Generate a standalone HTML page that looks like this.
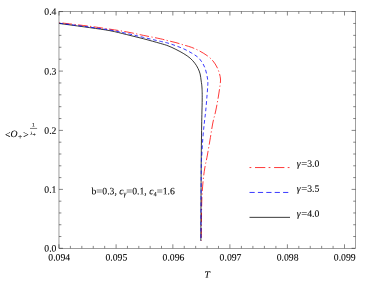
<!DOCTYPE html><html><head><meta charset="utf-8"><style>html,body{margin:0;padding:0;background:#fff}svg{display:block;text-rendering:geometricPrecision;will-change:transform}</style></head><body><svg width="382" height="285" viewBox="0 0 382 285"><rect width="382" height="285" fill="#fff"/><g fill="none" stroke-width="0.78"><path d="M59.30 22.65 C64.33 23.25 81.05 25.16 89.50 26.25 C97.95 27.34 103.79 28.26 110.00 29.20 C116.21 30.14 121.17 30.87 126.75 31.90 C132.33 32.93 137.92 34.26 143.50 35.40 C149.08 36.54 156.17 37.87 160.25 38.75 C164.33 39.63 165.39 40.06 168.00 40.70 C170.61 41.34 173.27 41.88 175.90 42.60 C178.53 43.32 181.17 44.20 183.80 45.00 C186.43 45.80 189.07 46.40 191.70 47.40 C194.33 48.40 196.97 49.58 199.60 51.00 C202.23 52.42 205.27 54.23 207.50 55.90 C209.73 57.57 211.43 59.15 213.00 61.00 C214.57 62.85 215.85 64.98 216.90 67.00 C217.95 69.02 218.70 71.10 219.30 73.10 C219.90 75.10 220.37 77.05 220.50 79.00 C220.63 80.95 220.47 81.80 220.10 84.80 C219.73 87.80 219.03 92.63 218.30 97.00 C217.57 101.37 216.62 106.67 215.70 111.00 C214.78 115.33 213.68 118.58 212.80 123.00 C211.92 127.42 211.30 132.17 210.40 137.50 C209.50 142.83 208.33 149.92 207.40 155.00 C206.47 160.08 205.50 163.83 204.80 168.00 C204.10 172.17 203.65 175.67 203.20 180.00 C202.75 184.33 202.36 189.67 202.10 194.00 C201.84 198.33 201.77 200.83 201.65 206.00 C201.53 211.17 201.46 219.20 201.40 225.00 C201.34 230.80 201.32 238.17 201.30 240.80" stroke="#f00" stroke-dasharray="1.2 2.4 9.6 2.4" stroke-dashoffset="0.3"/><path d="M59.30 23.50 C64.33 24.18 81.05 26.40 89.50 27.60 C97.95 28.80 103.79 29.53 110.00 30.70 C116.21 31.87 121.17 33.26 126.75 34.60 C132.33 35.94 137.92 37.28 143.50 38.75 C149.08 40.22 156.17 42.23 160.25 43.40 C164.33 44.57 165.39 44.80 168.00 45.80 C170.61 46.80 173.27 48.08 175.90 49.40 C178.53 50.72 181.43 52.25 183.80 53.70 C186.17 55.15 188.27 56.52 190.10 58.10 C191.93 59.68 193.48 61.48 194.80 63.20 C196.12 64.92 197.12 66.62 198.00 68.40 C198.88 70.18 199.57 71.80 200.10 73.90 C200.63 76.00 200.88 78.65 201.20 81.00 C201.52 83.35 201.83 84.83 202.00 88.00 C202.17 91.17 202.26 93.67 202.20 100.00 C202.14 106.33 201.82 114.33 201.65 126.00 C201.48 137.67 201.28 150.87 201.15 170.00 C201.02 189.13 200.90 229.00 200.85 240.80" stroke="#000"/><path d="M59.30 23.20 C64.33 23.85 81.05 25.97 89.50 27.10 C97.95 28.23 103.79 28.95 110.00 30.00 C116.21 31.05 121.17 32.17 126.75 33.40 C132.33 34.63 137.92 36.08 143.50 37.40 C149.08 38.72 156.17 40.35 160.25 41.30 C164.33 42.25 165.39 42.35 168.00 43.10 C170.61 43.85 173.27 44.83 175.90 45.80 C178.53 46.77 181.17 47.68 183.80 48.90 C186.43 50.12 189.33 51.70 191.70 53.10 C194.07 54.50 196.22 55.68 198.00 57.30 C199.78 58.92 201.22 60.95 202.40 62.80 C203.58 64.65 204.37 66.42 205.10 68.40 C205.83 70.38 206.37 72.77 206.80 74.70 C207.23 76.63 207.53 78.32 207.70 80.00 C207.87 81.68 207.93 81.97 207.80 84.80 C207.67 87.63 207.25 92.63 206.90 97.00 C206.55 101.37 206.13 106.67 205.70 111.00 C205.27 115.33 204.77 118.58 204.30 123.00 C203.83 127.42 203.32 132.17 202.90 137.50 C202.48 142.83 202.08 149.58 201.80 155.00 C201.53 160.42 201.40 155.70 201.25 170.00 C201.10 184.30 200.96 229.00 200.90 240.80" stroke="#00f" stroke-dasharray="3.7 2.64" stroke-dashoffset="-0.2"/></g><g stroke="#222" stroke-width="0.55" fill="none"><rect x="58.98" y="11.50" width="296.62" height="236.80" stroke-width="0.44"/><path d="M58.98 248.30v-4.00M58.98 11.50v4.00M70.40 248.30v-2.40M70.40 11.50v2.40M81.83 248.30v-2.40M81.83 11.50v2.40M93.25 248.30v-2.40M93.25 11.50v2.40M104.68 248.30v-2.40M104.68 11.50v2.40M116.10 248.30v-4.00M116.10 11.50v4.00M127.45 248.30v-2.40M127.45 11.50v2.40M138.80 248.30v-2.40M138.80 11.50v2.40M150.15 248.30v-2.40M150.15 11.50v2.40M161.50 248.30v-2.40M161.50 11.50v2.40M172.85 248.30v-4.00M172.85 11.50v4.00M184.26 248.30v-2.40M184.26 11.50v2.40M195.67 248.30v-2.40M195.67 11.50v2.40M207.08 248.30v-2.40M207.08 11.50v2.40M218.49 248.30v-2.40M218.49 11.50v2.40M229.90 248.30v-4.00M229.90 11.50v4.00M241.40 248.30v-2.40M241.40 11.50v2.40M252.90 248.30v-2.40M252.90 11.50v2.40M264.40 248.30v-2.40M264.40 11.50v2.40M275.90 248.30v-2.40M275.90 11.50v2.40M287.40 248.30v-4.00M287.40 11.50v4.00M298.82 248.30v-2.40M298.82 11.50v2.40M310.24 248.30v-2.40M310.24 11.50v2.40M321.66 248.30v-2.40M321.66 11.50v2.40M333.08 248.30v-2.40M333.08 11.50v2.40M344.50 248.30v-4.00M344.50 11.50v4.00M58.98 248.30h4.00M355.60 248.30h-4.00M58.98 236.52h2.40M355.60 236.52h-2.40M58.98 224.74h2.40M355.60 224.74h-2.40M58.98 212.96h2.40M355.60 212.96h-2.40M58.98 201.18h2.40M355.60 201.18h-2.40M58.98 189.40h4.00M355.60 189.40h-4.00M58.98 177.60h2.40M355.60 177.60h-2.40M58.98 165.80h2.40M355.60 165.80h-2.40M58.98 154.00h2.40M355.60 154.00h-2.40M58.98 142.20h2.40M355.60 142.20h-2.40M58.98 130.40h4.00M355.60 130.40h-4.00M58.98 118.54h2.40M355.60 118.54h-2.40M58.98 106.68h2.40M355.60 106.68h-2.40M58.98 94.82h2.40M355.60 94.82h-2.40M58.98 82.96h2.40M355.60 82.96h-2.40M58.98 71.10h4.00M355.60 71.10h-4.00M58.98 59.19h2.40M355.60 59.19h-2.40M58.98 47.28h2.40M355.60 47.28h-2.40M58.98 35.37h2.40M355.60 35.37h-2.40M58.98 23.46h2.40M355.60 23.46h-2.40M58.98 11.55h4.00M355.60 11.55h-4.00"/></g><g font-family="'Liberation Serif', serif" font-size="9.70" fill="#000" stroke="#000" stroke-width="0.08"><text x="56.45" y="251.60" transform="rotate(0.03 56.45 251.60)" text-anchor="end">0.0</text><text x="56.45" y="192.70" transform="rotate(0.03 56.45 192.70)" text-anchor="end">0.1</text><text x="56.45" y="133.70" transform="rotate(0.03 56.45 133.70)" text-anchor="end">0.2</text><text x="56.45" y="74.60" transform="rotate(0.03 56.45 74.60)" text-anchor="end">0.3</text><text x="56.45" y="14.70" transform="rotate(0.03 56.45 14.70)" text-anchor="end">0.4</text><text x="59.25" y="260.50" transform="rotate(0.03 59.25 260.50)" text-anchor="middle">0.094</text><text x="116.34" y="260.50" transform="rotate(0.03 116.34 260.50)" text-anchor="middle">0.095</text><text x="173.43" y="260.50" transform="rotate(0.03 173.43 260.50)" text-anchor="middle">0.096</text><text x="230.52" y="260.50" transform="rotate(0.03 230.52 260.50)" text-anchor="middle">0.097</text><text x="287.61" y="260.50" transform="rotate(0.03 287.61 260.50)" text-anchor="middle">0.098</text><text x="344.70" y="260.50" transform="rotate(0.03 344.70 260.50)" text-anchor="middle">0.099</text><text x="207.10" y="277.80" transform="rotate(0.03 207.10 277.80)" text-anchor="middle" font-style="italic">T</text><text x="91.45" y="194.30" transform="rotate(0.03 91.45 194.30)">b<tspan textLength="6.0" lengthAdjust="spacingAndGlyphs">=</tspan>0.3, <tspan font-style="italic">c</tspan><tspan font-style="italic" font-size="6.8" dy="1.7">γ</tspan><tspan dy="-1.7" textLength="6.0" lengthAdjust="spacingAndGlyphs">=</tspan>0.1, <tspan font-style="italic">c</tspan><tspan font-size="6.4" dy="1.9">4</tspan><tspan dy="-1.9" textLength="6.0" lengthAdjust="spacingAndGlyphs">=</tspan>1.6</text><path d="M249.5 167.55H290.0" stroke="#f00" stroke-width="0.78" fill="none" stroke-dasharray="1.8 3.7 10.3 3.3"/><text x="296.80" y="166.80" transform="rotate(0.03 296.80 166.80)"><tspan font-style="italic">γ</tspan><tspan x="301.24" textLength="6.0" lengthAdjust="spacingAndGlyphs">=</tspan>3.0</text><path d="M249.5 192.45H290.0" stroke="#00f" stroke-width="0.78" fill="none" stroke-dasharray="5.2 3.2"/><text x="296.80" y="191.77" transform="rotate(0.03 296.80 191.77)"><tspan font-style="italic">γ</tspan><tspan x="301.24" textLength="6.0" lengthAdjust="spacingAndGlyphs">=</tspan>3.5</text><path d="M249.5 217.35H290.0" stroke="#000" stroke-width="0.78" fill="none"/><text x="296.80" y="216.74" transform="rotate(0.03 296.80 216.74)"><tspan font-style="italic">γ</tspan><tspan x="301.24" textLength="6.0" lengthAdjust="spacingAndGlyphs">=</tspan>4.0</text><text x="4.95" y="137.70" transform="rotate(0.03 4.95 137.70)">&lt;</text><text x="10.47" y="136.90" transform="rotate(0.03 10.47 136.90)" font-style="italic">O</text><text x="17.93" y="139.30" transform="rotate(0.03 17.93 139.30)" font-size="7.5">+</text><text x="23.20" y="137.70" transform="rotate(0.03 23.20 137.70)">&gt;</text><text x="31.95" y="126.60" transform="rotate(0.03 31.95 126.60)" font-size="5.4">1</text><path d="M30 128.45H37.1" stroke="#000" stroke-width="0.5"/><text x="30.40" y="134.90" transform="rotate(0.03 30.40 134.90)" font-size="4.6" font-style="italic">λ</text><text x="32.63" y="136.20" transform="rotate(0.03 32.63 136.20)" font-size="5.2">+</text></g></svg></body></html>
